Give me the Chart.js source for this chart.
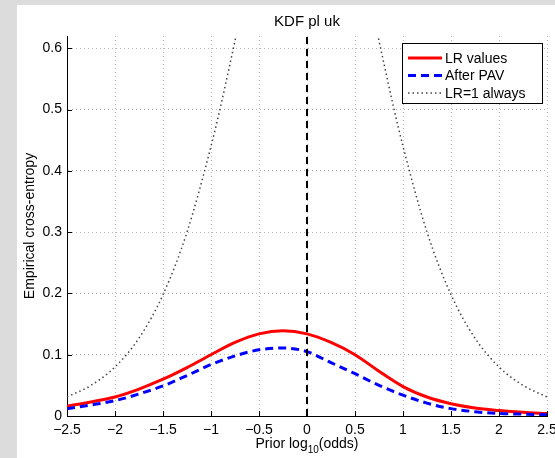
<!DOCTYPE html>
<html>
<head>
<meta charset="utf-8">
<title>KDF pl uk</title>
<script src="https://cdn.jsdelivr.net/npm/chart.js@4.4.1/dist/chart.umd.min.js"></script>
<style>
    html, body { margin: 0; padding: 0; background: #dcdcdc; }
    #wrap { width: 555px; height: 458px; }
</style>
</head>
<body>
<div id="wrap"><canvas id="ece-chart" width="555" height="458"></canvas></div>
<script>
// prior log10(odds) grid used by the two measured curves
const priorLogOdds = [-2.5, -2.25, -2, -1.75, -1.5, -1.25, -1, -0.75, -0.5, -0.25, 0,
                      0.25, 0.5, 0.75, 1, 1.25, 1.5, 1.75, 2, 2.25, 2.5];
const lrValues = [0.016, 0.023, 0.031, 0.044, 0.060, 0.079, 0.100, 0.120, 0.134, 0.139, 0.134,
                  0.120, 0.100, 0.073, 0.048, 0.031, 0.020, 0.013, 0.009, 0.006, 0.004];
const afterPav = [0.012, 0.018, 0.025, 0.036, 0.049, 0.066, 0.084, 0.098, 0.108, 0.111, 0.105,
                  0.087, 0.069, 0.050, 0.034, 0.021, 0.012, 0.007, 0.004, 0.003, 0.002];

// reference curve (LR=1 always), leaves the plot near +-0.75
const refLogOdds = [-2.5, -2.25, -2, -1.75, -1.5, -1.25, -1, -0.9, -0.8, -0.7, -0.6, 0,
                    0.6, 0.7, 0.8, 0.9, 1, 1.25, 1.5, 1.75, 2, 2.25, 2.5];
const lrOne = [0.031, 0.050, 0.080, 0.127, 0.198, 0.300, 0.440, 0.505, 0.576, 0.649, 0.724, null,
               0.724, 0.649, 0.576, 0.505, 0.440, 0.300, 0.198, 0.127, 0.080, 0.050, 0.031];

const zeroLine = [0, 0.62];
const xTicks = [-2.5, -2, -1.5, -1, -0.5, 0, 0.5, 1, 1.5, 2, 2.5];
const yTicks = [0, 0.1, 0.2, 0.3, 0.4, 0.5, 0.6];

const FONT = "'Liberation Sans', Arial, Helvetica, sans-serif";

const toPoints = (xs, ys) => xs.map((x, i) => ({ x: x, y: ys[i] }));
const fmt = v => String(v).replace('-', '\u2212');

// gray figure frame with the white figure area
const figureBackground = {
    id: 'figureBackground',
    beforeDraw(chart) {
        const ctx = chart.ctx;
        ctx.save();
        ctx.fillStyle = '#dcdcdc';
        ctx.fillRect(0, 0, chart.width, chart.height);
        ctx.fillStyle = '#ffffff';
        ctx.fillRect(17, 5, chart.width - 17, chart.height - 5);
        ctx.restore();
    }
};

// inward ticks, title, x label with subscript, legend box
const matlabDecor = {
    id: 'matlabDecor',
    afterDraw(chart) {
        const ctx = chart.ctx;
        const area = chart.chartArea;
        const xs = chart.scales.x;
        const ys = chart.scales.y;
        ctx.save();

        ctx.strokeStyle = '#000';
        ctx.lineWidth = 1;
        ctx.beginPath();
        yTicks.forEach(v => {
            const py = Math.round(ys.getPixelForValue(v)) + 0.5;
            ctx.moveTo(area.left, py);
            ctx.lineTo(area.left + 5, py);
        });
        xTicks.forEach(v => {
            const px = Math.round(xs.getPixelForValue(v)) + 0.5;
            ctx.moveTo(px, area.bottom);
            ctx.lineTo(px, area.bottom - 5);
        });
        ctx.stroke();

        const cx = (area.left + area.right) / 2;
        ctx.fillStyle = '#000';
        ctx.textBaseline = 'alphabetic';

        // title
        ctx.font = '15px ' + FONT;
        ctx.textAlign = 'center';
        ctx.fillText('KDF pl uk', cx, 26);

        // x label: Prior log_10(odds)
        ctx.textAlign = 'left';
        const partA = 'Prior log', sub = '10', partB = '(odds)';
        ctx.font = '14px ' + FONT;
        const wA = ctx.measureText(partA).width;
        const wB = ctx.measureText(partB).width;
        ctx.font = '10px ' + FONT;
        const wS = ctx.measureText(sub).width;
        let lx = cx - (wA + wS + wB) / 2;
        ctx.font = '14px ' + FONT;
        ctx.fillText(partA, lx, 448);
        ctx.font = '10px ' + FONT;
        ctx.fillText(sub, lx + wA, 453);
        ctx.font = '14px ' + FONT;
        ctx.fillText(partB, lx + wA + wS, 448);

        // legend
        const box = { left: 402, top: 43, right: 542, bottom: 103 };
        ctx.fillStyle = '#fff';
        ctx.fillRect(box.left, box.top, box.right - box.left, box.bottom - box.top);
        ctx.strokeStyle = '#000';
        ctx.lineWidth = 1;
        ctx.strokeRect(box.left + 0.5, box.top + 0.5, box.right - box.left, box.bottom - box.top);
        const rows = [58, 75.5, 93];
        chart.data.datasets.slice(0, 3).forEach((ds, i) => {
            ctx.strokeStyle = ds.borderColor;
            ctx.lineWidth = ds.borderWidth;
            ctx.setLineDash(ds.borderDash || []);
            ctx.beginPath();
            ctx.moveTo(408, rows[i]);
            ctx.lineTo(442, rows[i]);
            ctx.stroke();
            ctx.setLineDash([]);
            ctx.fillStyle = '#000';
            ctx.font = '14px ' + FONT;
            ctx.textBaseline = 'middle';
            ctx.fillText(ds.label, 445, rows[i] + 1);
        });
        ctx.restore();
    }
};

const eceCanvas = document.getElementById('ece-chart');

const eceData = {
    datasets: [{
        label: 'LR values',
        data: toPoints(priorLogOdds, lrValues),
        borderColor: '#ff0000',
        borderWidth: 3,
        order: 2
    }, {
        label: 'After PAV',
        data: toPoints(priorLogOdds, afterPav),
        borderColor: '#0000ff',
        borderWidth: 3,
        borderDash: [8, 5],
        order: 1
    }, {
        label: 'LR=1 always',
        data: toPoints(refLogOdds, lrOne),
        borderColor: '#444444',
        borderWidth: 1.5,
        borderDash: [1.5, 3],
        order: 3
    }, {
        label: 'zero',
        data: toPoints([0, 0], zeroLine),
        borderColor: '#000000',
        borderWidth: 2,
        borderDash: [7, 5],
        cubicInterpolationMode: 'default',
        order: 0
    }]
};

const eceOptions = {
    responsive: false,
    animation: false,
    layout: {
        padding: { top: 36, right: 8, left: 0, bottom: 0 }
    },
    elements: {
        point: { radius: 0 },
        line: { cubicInterpolationMode: 'monotone', fill: false }
    },
    spanGaps: false,
    scales: {
        x: {
            type: 'linear',
            min: -2.5,
            max: 2.5,
            afterBuildTicks: scale => { scale.ticks = xTicks.map(v => ({ value: v })); },
            afterFit: scale => {
                scale.height = 42;
                scale.paddingLeft = 0;
                scale.paddingRight = 0;
            },
            ticks: {
                autoSkip: false,
                maxRotation: 0,
                padding: 6,
                color: '#000',
                font: { family: FONT, size: 14 },
                callback: v => fmt(v)
            },
            grid: { color: '#b4b4b4', drawTicks: false },
            border: { color: '#000', width: 1, dash: [1, 3] }
        },
        y: {
            min: 0,
            max: 0.62,
            afterBuildTicks: scale => { scale.ticks = yTicks.map(v => ({ value: v })); },
            afterFit: scale => {
                scale.width = 67;
                scale.paddingTop = 0;
                scale.paddingBottom = 0;
            },
            ticks: {
                padding: 5,
                color: '#000',
                font: { family: FONT, size: 14 },
                callback: v => fmt(v)
            },
            grid: { color: '#b4b4b4', drawTicks: false },
            border: { color: '#000', width: 1, dash: [1, 3] },
            title: {
                display: true,
                text: 'Empirical cross-entropy',
                color: '#000',
                font: { family: FONT, size: 14 },
                padding: { top: 22, bottom: 0 }
            }
        }
    },
    plugins: {
        legend: { display: false },
        tooltip: { enabled: false }
    }
};

let eceChart = new Chart(eceCanvas, {
    type: 'line',
    data: eceData,
    options: eceOptions,
    plugins: [figureBackground, matlabDecor]
});
</script>
</body>
</html>
